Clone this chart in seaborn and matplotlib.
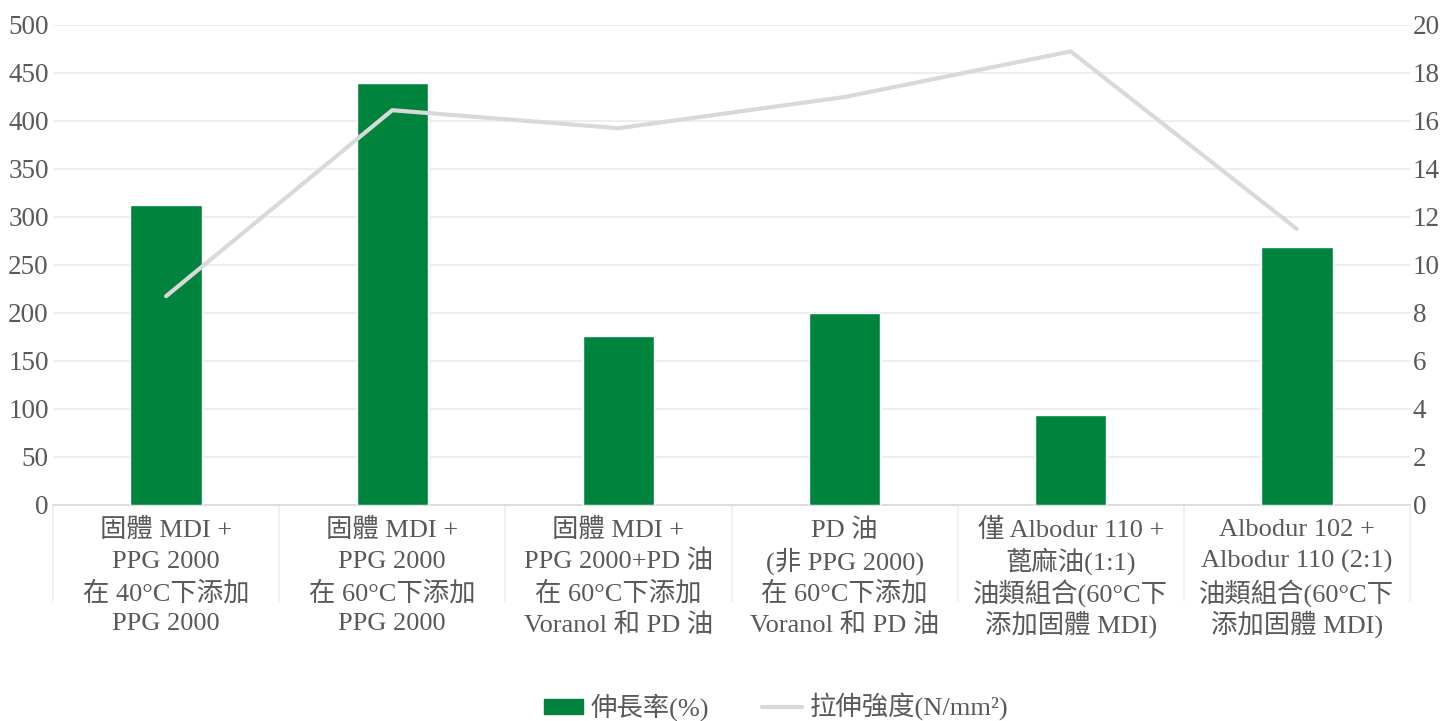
import numpy as np
import pandas as pd
import matplotlib
matplotlib.use("Agg")
import matplotlib.pyplot as plt
import matplotlib.transforms as mtransforms
from matplotlib.patches import Patch
from matplotlib.lines import Line2D
import seaborn as sns

categories = [
    "固體 MDI +\nPPG 2000\n在 40°C下添加\nPPG 2000",
    "固體 MDI +\nPPG 2000\n在 60°C下添加\nPPG 2000",
    "固體 MDI +\nPPG 2000+PD 油\n在 60°C下添加\nVoranol 和 PD 油",
    "PD 油\n(非 PPG 2000)\n在 60°C下添加\nVoranol 和 PD 油",
    "僅 Albodur 110 +\n蓖麻油(1:1)\n油類組合(60°C下\n添加固體 MDI)",
    "Albodur 102 +\nAlbodur 110 (2:1)\n油類組合(60°C下\n添加固體 MDI)",
]
elongation = [312, 440, 176, 200, 94, 269]
strength = [8.7, 16.45, 15.7, 17.0, 18.9, 11.5]
left_ticks = [0, 50, 100, 150, 200, 250, 300, 350, 400, 450, 500]
right_ticks = [0, 2, 4, 6, 8, 10, 12, 14, 16, 18, 20]
legend_labels = ["伸長率(%)", "拉伸強度(N/mm²)"]

GREEN = "#00843D"
LINE = "#D9D9D9"
TEXT = "#595959"
GRID = "#EBEBEB"

sns.set_theme(style="white")
plt.rcParams["font.family"] = ["Liberation Serif", "Noto Sans CJK TC", "DejaVu Sans"]

fig = plt.figure(figsize=(14.56, 7.21), dpi=100)
ax = fig.add_axes([53 / 1456, 1 - 505 / 721, (1410 - 53) / 1456, 480 / 721])

df = pd.DataFrame({"cat": categories, "elong": elongation, "pos": np.arange(len(categories))})
sns.barplot(data=df, x="cat", y="elong", color=GREEN, saturation=1, width=0.315, ax=ax, zorder=3)
ax.set_xlim(-0.5, len(categories) - 0.5)
ax.set_ylim(0, 500)
ax.set_yticks(left_ticks)
ax.set_yticklabels([str(t) for t in left_ticks])
ax.grid(axis="y", color=GRID, linewidth=1.2, zorder=0)
ax.set_axisbelow(True)
ax.set_xlabel("")
ax.set_ylabel("")
for s in ["top", "right", "left"]:
    ax.spines[s].set_visible(False)
ax.spines["bottom"].set_color("#D9D9D9")
ax.spines["bottom"].set_linewidth(1.2)
ax.tick_params(axis="y", length=0, pad=3, labelsize=19.5, labelcolor=TEXT)
ax.tick_params(axis="x", length=0, labelbottom=False)

# multi-line category labels with even line spacing
trans = mtransforms.blended_transform_factory(ax.transData, ax.transAxes)
axis_h_px = 480.0
for i, lab in enumerate(categories):
    for j, line in enumerate(lab.split("\n")):
        ypx = 25 + 31.5 * j  # pixels below the axis line
        ax.text(i, -ypx / axis_h_px, line, transform=trans, ha="center", va="center",
                fontsize=19, color=TEXT, clip_on=False)

# category separators below the axis
for b in np.arange(-0.5, len(categories), 1.0):
    ax.plot([b, b], [0, -0.2], transform=trans, clip_on=False, color="#EFEFEF", linewidth=1.2)

ax2 = ax.twinx()
sns.lineplot(data=df.assign(strength=strength), x="pos", y="strength", color=LINE, linewidth=3,
             ax=ax2, zorder=4)
ax2.set_ylim(0, 20)
ax2.set_yticks(right_ticks)
ax2.set_yticklabels([str(t) for t in right_ticks])
ax2.set_xlim(-0.5, len(categories) - 0.5)
ax2.set_ylabel("")
ax2.set_xlabel("")
for s in ["top", "right", "left", "bottom"]:
    ax2.spines[s].set_visible(False)
ax2.tick_params(axis="y", length=0, pad=2, labelsize=19.5, labelcolor=TEXT)
ax2.grid(False)

handles = [Patch(facecolor=GREEN, edgecolor=GREEN),
           Line2D([0], [0], color=LINE, linewidth=3)]
fig.legend(handles, legend_labels, loc="center", bbox_to_anchor=(776 / 1456, 1 - 707 / 721),
           ncol=2, frameon=False, fontsize=19, labelcolor=TEXT, handlelength=1.5,
           handleheight=0.5, columnspacing=2.0, handletextpad=0.3)

fig.savefig("out.png", dpi=100)
